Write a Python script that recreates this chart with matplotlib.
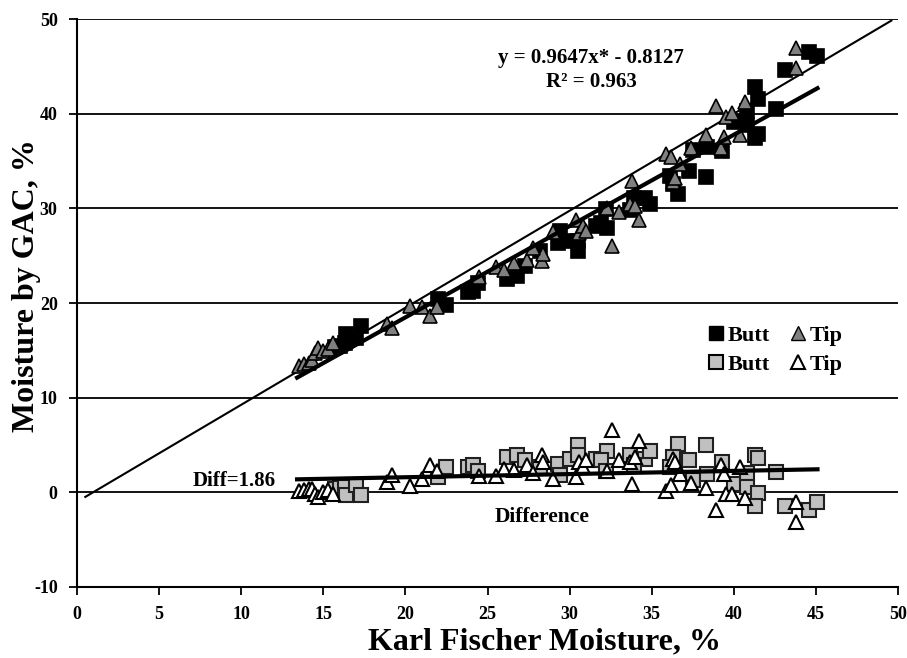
import numpy as np
import matplotlib
matplotlib.use("Agg")
import matplotlib.pyplot as plt
from matplotlib.lines import Line2D

plt.rcParams['font.family'] = ['Liberation Serif', 'DejaVu Serif']
plt.rcParams['font.weight'] = 'bold'
plt.rcParams['axes.unicode_minus'] = False

# Karl Fischer moisture (x) and difference KF - GAC
butt_kf = [15.7, 16.0, 16.3, 16.4, 17.0, 17.3, 22.0, 22.5, 23.8, 24.1, 24.4, 26.2, 26.8, 27.3,
           28.2, 29.3, 29.4, 30.0, 30.5, 30.5, 31.6, 32.3, 31.9, 32.2, 33.7, 34.6, 34.9, 33.9,
           36.6, 36.3, 37.3, 36.1, 38.3, 37.5, 38.4, 39.3, 40.0, 40.8, 40.8, 41.3, 41.5, 41.5,
           41.3, 42.6, 43.1, 44.6, 45.1]
butt_diff = [0.4, 0.5, 0.56, -0.3, 0.74, -0.3, 1.6, 2.67, 2.67, 2.85, 2.3, 3.7, 3.9, 3.4,
             2.67, 3.0, 1.8, 3.5, 4.96, 3.9, 3.5, 4.4, 3.4, 2.3, 3.9, 3.55, 4.4, 2.85,
             5.1, 3.7, 3.4, 2.67, 4.96, 1.34, 1.9, 3.2, 0.92, 2.04, 0.56, 3.9, 3.66, -0.07,
             -1.48, 2.15, -1.48, -1.9, -1.0]

tip_kf = [13.5, 13.8, 14.1, 14.3, 14.5, 14.7, 15.0, 15.3, 15.6, 18.9, 19.2, 20.3, 21.0, 21.5,
          21.9, 24.5, 25.5, 26.0, 26.6, 27.4, 28.3, 28.4, 27.8, 29.0, 30.4, 30.6, 30.8, 31.0,
          32.3, 32.6, 33.0, 33.7, 34.0, 34.2, 33.8, 35.9, 36.2, 36.3, 36.4, 36.7, 37.4, 38.3,
          38.9, 39.2, 39.4, 39.5, 39.9, 40.4, 40.7, 43.8, 43.8]
tip_diff = [0.14, 0.2, 0.4, 0.3, -0.2, -0.55, 0.03, 0.2, -0.14, 1.1, 1.8, 0.63, 1.45, 2.85,
            2.3, 1.7, 1.7, 2.5, 2.4, 2.85, 3.9, 3.2, 2.0, 1.45, 1.6, 3.2, 2.7, 3.4,
            2.3, 6.6, 3.4, 3.2, 3.7, 5.4, 0.92, 0.14, 0.8, 3.55, 3.2, 1.97, 0.99, 0.5,
            -1.9, 2.85, 1.9, -0.14, -0.14, 2.67, -0.56, -1.0, -3.1]

# fitted lines
fit_slope, fit_icept = 0.9647, -0.8127
fit_range = [13.4, 45.1]
diff_start, diff_end = 1.37, 2.43
ref_slope, ref_icept = 1.025, -1.0
ref_range = [0.5, 49.6]

butt_kf = np.array(butt_kf)
butt_diff = np.array(butt_diff)
tip_kf = np.array(tip_kf)
tip_diff = np.array(tip_diff)
butt_gac = butt_kf - butt_diff
tip_gac = tip_kf - tip_diff

fig = plt.figure(figsize=(9.07, 6.58), dpi=100)
ax = fig.add_axes([0.085, 0.108, 0.905, 0.863])

for yv in range(0, 51, 10):
    ax.axhline(yv, color='black', lw=1.3, zorder=1)

xr = np.array(ref_range)
ax.plot(xr, ref_slope * xr + ref_icept, color='black', lw=1.5, zorder=2)

ms = 10
ax.plot(butt_kf, butt_gac, 's', ms=ms, mfc='black', mec='black', mew=1.2, zorder=3)
ax.plot(tip_kf, tip_gac, '^', ms=ms, mfc='#808080', mec='black', mew=1.2, zorder=3)
ax.plot(butt_kf, butt_diff, 's', ms=ms, mfc='#c0c0c0', mec='#202020', mew=1.5, zorder=3)
ax.plot(tip_kf, tip_diff, '^', ms=ms, mfc='white', mec='black', mew=1.5, zorder=3)

xf = np.array(fit_range)
ax.plot(xf, fit_slope * xf + fit_icept, color='black', lw=3, zorder=4)
ax.plot(xf, [diff_start, diff_end], color='black', lw=3, zorder=4)

ax.set_xlim(0, 50)
ax.set_ylim(-10, 50)
ax.set_xticks(range(0, 51, 5))
ax.set_yticks(range(-10, 51, 10))
ax.spines['top'].set_visible(False)
ax.spines['right'].set_visible(False)
ax.spines['left'].set_linewidth(1.5)
ax.spines['bottom'].set_linewidth(1.5)
ax.tick_params(direction='out', length=6, width=1.3, labelsize=13, pad=8)

ax.set_xlabel('Karl Fischer Moisture, %', fontsize=23, fontweight='bold', va='center')
ax.set_ylabel('Moisture by GAC, %', fontsize=23, fontweight='bold', va='center')
ax.xaxis.set_label_coords(0.569, -0.097)
ax.yaxis.set_label_coords(-0.062, 0.53)

ax.text(31.3, 44.6, 'y = 0.9647x* - 0.8127\nR² = 0.963', fontsize=15, fontweight='bold',
        ha='center', va='center', linespacing=1.3)
ax.text(12.1, 1.15, 'Diff=1.86', fontsize=15, fontweight='bold', ha='right', va='center')
ax.text(28.3, -2.6, 'Difference', fontsize=15.5, fontweight='bold', ha='center', va='center')

handles = [
    Line2D([], [], ls='none', marker='s', ms=10, mfc='black', mec='black'),
    Line2D([], [], ls='none', marker='s', ms=10, mfc='#c0c0c0', mec='black', mew=1.5),
    Line2D([], [], ls='none', marker='^', ms=10, mfc='#808080', mec='black'),
    Line2D([], [], ls='none', marker='^', ms=10, mfc='white', mec='black', mew=1.5),
]
ax.legend(handles, ['Butt', 'Butt', 'Tip', 'Tip'], ncol=2, frameon=False,
          loc='center', bbox_to_anchor=(0.85, 0.417), fontsize=16,
          handlelength=0.8, handletextpad=0.1, columnspacing=0.9, labelspacing=0.4)

fig.savefig('out.png', dpi=100)
